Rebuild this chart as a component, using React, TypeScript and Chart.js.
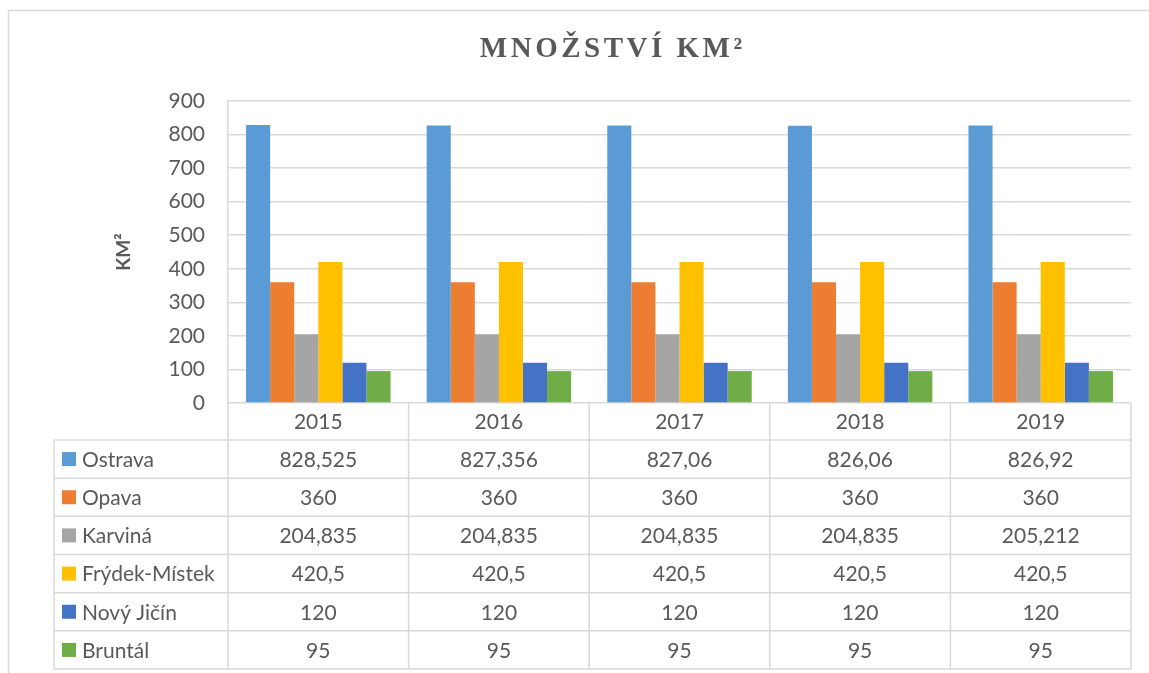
import { useEffect, useRef } from 'react';
import { Chart, registerables } from 'chart.js';

Chart.register(...registerables);

const years = ['2015', '2016', '2017', '2018', '2019'];
const seriesNames = ['Ostrava', 'Opava', 'Karviná', 'Frýdek-Místek', 'Nový Jičín', 'Bruntál'];
const ostrava = [828.525, 827.356, 827.06, 826.06, 826.92];
const opava = [360, 360, 360, 360, 360];
const karvina = [204.835, 204.835, 204.835, 204.835, 205.212];
const frydekMistek = [420.5, 420.5, 420.5, 420.5, 420.5];
const novyJicin = [120, 120, 120, 120, 120];
const bruntal = [95, 95, 95, 95, 95];
const seriesColors = ['#5B9BD5', '#ED7D31', '#A5A5A5', '#FFC000', '#4472C4', '#70AD47'];
const yMin = 0;
const yMax = 900;
const yStep = 100;
const chartTitle = 'MNOŽSTVÍ KM²';
const yAxisTitle = 'KM²';

const allSeries = [ostrava, opava, karvina, frydekMistek, novyJicin, bruntal];

const TEXT = '#595959';
const LINE = '#D9D9D9';
const FONT = 'Lato, "Open Sans", sans-serif';

const fmt = (v: number) => String(v).replace('.', ',');

const decorPlugin = {
  id: 'decor',
  beforeDraw(chart: any) {
    const ctx = chart.ctx;
    ctx.save();
    ctx.strokeStyle = LINE;
    ctx.lineWidth = 1.5;
    ctx.strokeRect(8.5, 10.5, 1200, 800);
    ctx.restore();
  },
  afterDraw(chart: any) {
    const ctx = chart.ctx;
    const x = chart.scales.x;
    const y = chart.scales.y;
    const area = chart.chartArea;
    const y0 = y.getPixelForValue(0);
    const tableLeft = 54;
    const headerBottom = y0 + 37;
    const tableBottom = 669;
    const rowH = (tableBottom - headerBottom) / seriesNames.length;
    const n = years.length;
    const bounds: number[] = [area.left];
    for (let i = 0; i < n - 1; i++) {
      bounds.push((x.getPixelForValue(i) + x.getPixelForValue(i + 1)) / 2);
    }
    bounds.push(area.right);

    ctx.save();
    ctx.strokeStyle = LINE;
    ctx.lineWidth = 1.5;
    ctx.beginPath();
    ctx.moveTo(tableLeft, headerBottom);
    ctx.lineTo(tableLeft, tableBottom);
    bounds.forEach((bx) => {
      ctx.moveTo(bx, y0);
      ctx.lineTo(bx, tableBottom);
    });
    for (let r = 0; r <= seriesNames.length; r++) {
      const ly = headerBottom + r * rowH;
      ctx.moveTo(tableLeft, ly);
      ctx.lineTo(area.right, ly);
    }
    ctx.stroke();

    ctx.font = `21px ${FONT}`;
    ctx.fillStyle = TEXT;
    ctx.textBaseline = 'middle';
    ctx.textAlign = 'center';
    for (let i = 0; i < n; i++) {
      const cx = x.getPixelForValue(i);
      ctx.fillText(years[i], cx, (y0 + headerBottom) / 2 + 1);
    }
    seriesNames.forEach((name, r) => {
      const cy = headerBottom + r * rowH + rowH / 2 + 1;
      ctx.fillStyle = seriesColors[r];
      ctx.fillRect(62, cy - 8, 14, 14);
      ctx.fillStyle = TEXT;
      ctx.textAlign = 'left';
      ctx.fillText(name, 82, cy);
      ctx.textAlign = 'center';
      for (let i = 0; i < n; i++) {
        ctx.fillText(fmt(allSeries[r][i]), x.getPixelForValue(i), cy);
      }
    });

    ctx.font = `bold 29px "Liberation Serif", "Times New Roman", serif`;
    (ctx as any).letterSpacing = '3.5px';
    ctx.fillStyle = TEXT;
    ctx.textAlign = 'left';
    ctx.textBaseline = 'alphabetic';
    const w = ctx.measureText(chartTitle).width - 3.5;
    ctx.fillText(chartTitle, 611 - w / 2, 57);
    ctx.restore();
  },
};

export default function App() {
  const ref = useRef<HTMLCanvasElement | null>(null);
  useEffect(() => {
    if (!ref.current) return;
    const chart = new Chart(ref.current, {
      type: 'bar',
      data: {
        labels: years,
        datasets: seriesNames.map((name, i) => ({
          label: name,
          data: allSeries[i],
          backgroundColor: seriesColors[i],
          borderWidth: 0,
          categoryPercentage: 0.8,
          barPercentage: 1,
        })),
      },
      options: {
        animation: false,
        responsive: true,
        maintainAspectRatio: false,
        layout: { padding: { left: 0, right: 18, top: 101, bottom: 270 } },
        plugins: {
          legend: { display: false },
          title: { display: false },
          tooltip: { enabled: false },
        },
        scales: {
          x: {
            ticks: { display: false },
            grid: { display: false },
            border: { display: false },
            afterFit: (s: any) => {
              s.height = 0;
            },
          },
          y: {
            min: yMin,
            max: yMax,
            ticks: {
              stepSize: yStep,
              color: TEXT,
              font: { family: FONT, size: 21 },
              padding: 23,
            },
            grid: { color: LINE, lineWidth: 1.5, drawTicks: false },
            border: { display: true, color: LINE, width: 1.5 },
            title: {
              display: true,
              text: yAxisTitle,
              color: TEXT,
              font: { family: FONT, size: 19, weight: 'bold' },
              padding: { top: 112, bottom: 0 },
            },
            afterFit: (s: any) => {
              s.width = 228;
            },
          },
        },
      },
      plugins: [decorPlugin],
    });
    return () => chart.destroy();
  }, []);
  return (
    <div style={{ position: 'fixed', left: 0, top: 0, width: 1149, height: 673, background: '#fff' }}>
      <canvas ref={ref} />
    </div>
  );
}
